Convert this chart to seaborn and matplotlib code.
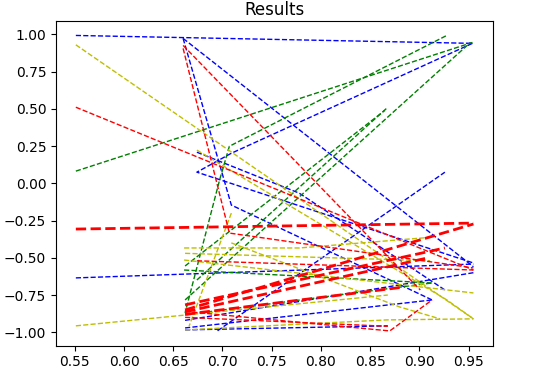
import matplotlib
matplotlib.use("Agg")
import matplotlib.pyplot as plt
import seaborn as sns

# dashed runs, one list of x and one of y per run
blue_x = [
    [0.551, 0.954],
    [0.954, 0.709, 0.674, 0.955],
    [0.660, 0.709, 0.913],
    [0.660, 0.955],
    [0.551, 0.955],
    [0.695, 0.926],
    [0.662, 0.913],
    [0.662, 0.868],
    [0.674, 0.778, 0.926],
    [0.662, 0.955],
]
blue_y = [
    [0.993, 0.940],
    [0.940, 0.202, 0.075, -0.535],
    [0.973, -0.146, -0.783],
    [0.973, -0.56],
    [-0.635, -0.542],
    [-0.99, 0.075],
    [-0.971, -0.783],
    [-0.984, -0.957],
    [0.209, -0.066, -0.716],
    [-0.92, -0.60],
]

green_x = [
    [0.551, 0.954],
    [0.927, 0.707, 0.697, 0.662],
    [0.674, 0.868],
    [0.662, 0.865],
    [0.661, 0.913],
    [0.662, 0.952],
    [0.662, 0.913],
]
green_y = [
    [0.082, 0.946],
    [0.99, 0.249, 0.021, -0.87],
    [-0.649, 0.511],
    [-0.555, 0.49],
    [-0.582, -0.669],
    [-0.783, 0.946],
    [-0.883, -0.669],
]

red_x = [
    [0.551, 0.955],
    [0.660, 0.707, 0.955],
    [0.660, 0.901],
    [0.662, 0.870, 0.913],
    [0.674, 0.955],
    [0.662, 0.868],
]
red_y = [
    [0.511, -0.582],
    [0.906, -0.334, -0.568],
    [0.926, -0.716],
    [-0.86, -0.991, -0.783],
    [-0.52, -0.582],
    [-0.90, -0.96],
]

# the heavier red runs
red_bold_x = [
    [0.551, 0.955],
    [0.662, 0.955],
    [0.662, 0.926],
    [0.662, 0.909],
    [0.662, 0.880],
]
red_bold_y = [
    [-0.307, -0.267],
    [-0.85, -0.273],
    [-0.816, -0.434],
    [-0.863, -0.50],
    [-0.88, -0.70],
]

yellow_x = [
    [0.551, 0.955],
    [0.551, 0.868],
    [0.661, 0.778, 0.914],
    [0.661, 0.955],
    [0.674, 0.928, 0.955],
    [0.709, 0.666],
    [0.662, 0.867, 0.955],
    [0.709, 0.880, 0.921],
    [0.662, 0.911],
]
yellow_y = [
    [0.93, -0.91],
    [-0.957, -0.75],
    [-0.434, -0.434, -0.361],
    [-0.515, -0.736],
    [0.223, -0.783, -0.91],
    [-0.20, -0.96],
    [-0.984, -0.917, -0.91],
    [-0.40, -0.83, -0.91],
    [-0.47, -0.52],
]

fig = plt.figure(figsize=(5.44, 3.83), dpi=100)
ax = fig.add_axes([0.1029, 0.0974, 0.8039, 0.8486])

groups = [
    (blue_x, blue_y, "b", 1.0),
    (green_x, green_y, "g", 1.0),
    (yellow_x, yellow_y, "y", 1.0),
    (red_x, red_y, "r", 1.0),
    (red_bold_x, red_bold_y, "r", 2.0),
]
for xs, ys, col, lw in groups:
    for x, y in zip(xs, ys):
        sns.lineplot(x=x, y=y, ax=ax, sort=False, estimator=None,
                     color=col, linestyle="--", linewidth=lw)

ax.set_title("Results", pad=4)
fig.savefig("out.png", dpi=100)
